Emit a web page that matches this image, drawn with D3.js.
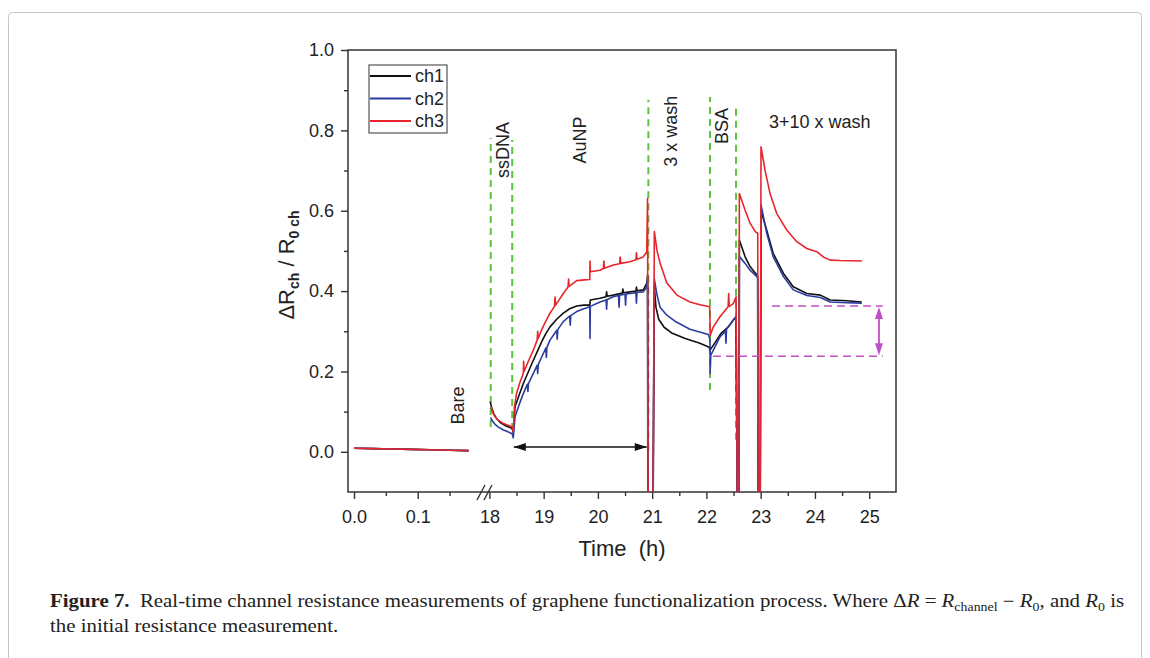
<!DOCTYPE html>
<html>
<head>
<meta charset="utf-8" />
<title>graphene functionalization</title>
<script src="https://cdn.jsdelivr.net/npm/d3@7"></script>
<style>
  body { margin: 0; background: #fff; }
  svg text { font-family: "Liberation Sans", Arial, sans-serif; fill: #222; }
  .cap text, text.cap { font-family: "Liberation Serif", "DejaVu Serif", serif; white-space: pre; }
</style>
</head>
<body>
<svg id="chart" width="1150" height="658"></svg>
<script>
// axis ticks
var leftTicks = [0, 0.1], leftMinor = [0.05, 0.15];
var rightTicks = [18, 19, 20, 21, 22, 23, 24, 25];
var rightMinor = [18.5, 19.5, 20.5, 21.5, 22.5, 23.5, 24.5];
var yTicks = [0, 0.2, 0.4, 0.6, 0.8, 1.0], yMinor = [0.1, 0.3, 0.5, 0.7, 0.9];

var channels = ['ch1', 'ch2', 'ch3'];
var colors = ['#111111', '#2b3c9e', '#e8252d'];

// [time (h), dR/R0]; null = axis break
var ch1 = [[0,0.009],[0.03,0.008],[0.06,0.007],[0.09,0.006],[0.12,0.005],[0.15,0.004],[0.18,0.003], null,
  [18.015,0.125],[18.04,0.11],[18.08,0.095],[18.13,0.083],[18.2,0.073],[18.3,0.065],[18.42,0.058],[18.44,0.048],
  [18.472,0.112],[18.55,0.142],[18.625,0.17],[18.72,0.2],[18.81,0.228],[18.89,0.252],[18.964,0.274],[19.04,0.294],
  [19.117,0.311],[19.24,0.33],[19.362,0.345],[19.48,0.356],[19.609,0.363],[19.74,0.365],[19.85,0.365],[19.86,0.378],
  [20.039,0.382],[20.15,0.386],[20.16,0.398],[20.17,0.387],[20.284,0.39],[20.45,0.395],[20.46,0.405],[20.47,0.396],
  [20.592,0.398],[20.7,0.4],[20.71,0.41],[20.72,0.401],[20.837,0.403],[20.9,0.419],[20.915,0.44],[20.925,-0.2],[21.015,-0.2],
  [21.04,0.41],[21.07,0.36],[21.12,0.33],[21.22,0.31],[21.37,0.295],[21.61,0.282],[21.88,0.27],[22.05,0.26],[22.066,0.253],
  [22.15,0.27],[22.27,0.295],[22.404,0.311],[22.496,0.328],[22.546,0.336],[22.572,-0.2],[22.6,-0.2],[22.607,0.527],
  [22.712,0.486],[22.804,0.461],[22.93,0.44],[22.945,0.436],[22.95,-0.2],[22.99,-0.2],[23.006,0.6],
  [23.11,0.552],[23.23,0.494],[23.42,0.444],[23.6,0.411],[23.85,0.394],[24.1,0.39],[24.28,0.378],[24.59,0.376],[24.863,0.373]];

var ch2 = [[0,0.009],[0.03,0.008],[0.06,0.007],[0.09,0.006],[0.12,0.005],[0.15,0.004],[0.18,0.003], null,
  [18.02,0.085],[18.06,0.076],[18.1,0.069],[18.16,0.062],[18.25,0.055],[18.34,0.05],[18.42,0.045],[18.44,0.035],
  [18.472,0.087],[18.55,0.118],[18.625,0.145],[18.7,0.168],[18.71,0.15],[18.72,0.17],[18.81,0.195],[18.88,0.215],
  [18.89,0.195],[18.9,0.217],[18.964,0.236],[19.04,0.258],[19.05,0.235],[19.06,0.26],[19.117,0.278],[19.24,0.302],
  [19.25,0.28],[19.26,0.304],[19.362,0.324],[19.48,0.338],[19.49,0.315],[19.5,0.339],[19.609,0.349],[19.74,0.356],
  [19.85,0.361],[19.855,0.282],[19.86,0.362],[20.039,0.373],[20.15,0.378],[20.16,0.355],[20.17,0.379],[20.284,0.386],
  [20.38,0.389],[20.39,0.36],[20.4,0.39],[20.5,0.392],[20.51,0.365],[20.52,0.393],[20.592,0.394],[20.7,0.396],
  [20.71,0.37],[20.72,0.397],[20.837,0.398],[20.9,0.41],[20.915,0.43],[20.92,-0.2],[21.01,-0.2],
  [21.04,0.43],[21.09,0.39],[21.145,0.36],[21.27,0.34],[21.42,0.325],[21.696,0.305],[22.035,0.292],[22.066,0.28],
  [22.068,0.195],[22.08,0.24],[22.127,0.253],[22.25,0.286],[22.35,0.3],[22.36,0.27],[22.37,0.305],[22.496,0.328],
  [22.546,0.336],[22.57,-0.2],[22.6,-0.2],[22.607,0.486],
  [22.712,0.469],[22.804,0.452],[22.93,0.436],[22.945,0.432],[22.95,-0.2],[22.99,-0.2],[23.006,0.615],
  [23.11,0.545],[23.23,0.486],[23.42,0.436],[23.6,0.403],[23.85,0.389],[24.1,0.384],[24.28,0.373],[24.59,0.371],[24.863,0.37]];

var ch3 = [[0,0.009],[0.03,0.008],[0.06,0.007],[0.09,0.006],[0.12,0.005],[0.15,0.004],[0.18,0.003], null,
  [18.03,0.112],[18.06,0.098],[18.1,0.088],[18.16,0.079],[18.24,0.072],[18.33,0.067],[18.42,0.062],[18.44,0.05],
  [18.46,0.11],[18.5,0.145],[18.56,0.172],[18.625,0.195],[18.63,0.225],[18.64,0.2],[18.72,0.226],[18.81,0.253],
  [18.88,0.278],[18.89,0.3],[18.9,0.282],[18.96,0.303],[19.04,0.325],[19.117,0.345],[19.2,0.362],[19.21,0.385],
  [19.22,0.365],[19.362,0.394],[19.45,0.41],[19.46,0.43],[19.47,0.412],[19.609,0.426],[19.75,0.428],[19.85,0.429],
  [19.855,0.475],[19.86,0.448],[19.95,0.45],[20.039,0.452],[20.1,0.456],[20.11,0.475],[20.12,0.457],[20.284,0.465],
  [20.4,0.468],[20.41,0.485],[20.42,0.469],[20.592,0.473],[20.7,0.478],[20.71,0.495],[20.72,0.479],[20.837,0.485],
  [20.9,0.498],[20.915,0.631],[20.925,-0.2],[21.015,-0.2],
  [21.04,0.548],[21.09,0.5],[21.145,0.47],[21.27,0.42],[21.456,0.39],[21.696,0.373],[21.88,0.366],[22.06,0.361],
  [22.07,0.29],[22.127,0.311],[22.25,0.336],[22.4,0.361],[22.41,0.394],[22.42,0.362],[22.496,0.369],[22.546,0.386],
  [22.575,-0.2],[22.6,-0.2],[22.607,0.643],
  [22.712,0.602],[22.804,0.569],[22.9,0.548],[22.946,0.544],[22.95,-0.2],[22.99,-0.2],[23.006,0.759],
  [23.08,0.701],[23.172,0.643],[23.296,0.593],[23.48,0.552],[23.665,0.523],[23.85,0.506],[24.033,0.498],
  [24.155,0.485],[24.28,0.477],[24.46,0.476],[24.863,0.475]];

// step markers: [time, from, to]
var steps = [[18.024,0.062,0.781],[18.42,0.054,0.776],[20.93,0.004,0.876],[22.066,0.154,0.883],[22.545,0.03,0.858]];
var stepNames = ['Bare', 'ssDNA', 'AuNP', '3 x wash', 'BSA'];
var stepAt = [[0.162,0.115],[18.25,0.751],[19.67,0.776],[21.35,0.798],[22.29,0.811]];
var washLabel = '3+10 x wash', washAt = [24.09, 0.805];
var spanArrow = [18.45, 20.9, 0.012];
var baseLine = [22.12, 25.25, 0.238], endLine = [23.21, 25.25, 0.363], deltaAt = 25.18;

var svg = d3.select('#chart');
var L = 348, R = 896, T = 50, B = 492;

var xLeft = d3.scaleLinear().domain([0, 0.1]).range([354, 417.7]);
var xRight = d3.scaleLinear().domain([18, 25]).range([489.4, 869.2]);
var y = d3.scaleLinear().domain([-0.1, 1.0]).range([B, T]);
function xt(t) { return t < 1 ? xLeft(t) : xRight(t); }

// page border
svg.append('rect').attr('x', 8.5).attr('y', 12.5).attr('width', 1133).attr('height', 700)
  .attr('rx', 4).attr('fill', 'none').attr('stroke', '#c4c4c4');

svg.append('clipPath').attr('id', 'plot').append('rect')
  .attr('x', L).attr('y', T).attr('width', R - L).attr('height', B - T);

function axisStyle(g) {
  g.select('.domain').remove();
  g.selectAll('line').attr('stroke', '#333').attr('stroke-width', 1.4);
  g.selectAll('text').style('font-size', '18px').attr('fill', '#222');
}

// x axes
svg.append('g').attr('transform', `translate(0,${B})`)
  .call(d3.axisBottom(xLeft).tickValues(leftTicks).tickFormat(d3.format('.1f')).tickSize(7).tickPadding(11)).call(axisStyle);
svg.append('g').attr('transform', `translate(0,${B})`)
  .call(d3.axisBottom(xLeft).tickValues(leftMinor).tickFormat('').tickSize(4)).call(axisStyle);
svg.append('g').attr('transform', `translate(0,${B})`)
  .call(d3.axisBottom(xRight).tickValues(rightTicks).tickFormat(d3.format('d')).tickSize(7).tickPadding(11)).call(axisStyle);
svg.append('g').attr('transform', `translate(0,${B})`)
  .call(d3.axisBottom(xRight).tickValues(rightMinor).tickFormat('').tickSize(4)).call(axisStyle);

// y axis
svg.append('g').attr('transform', `translate(${L},0)`)
  .call(d3.axisLeft(y).tickValues(yTicks).tickFormat(d3.format('.1f')).tickSize(7).tickPadding(7)).call(axisStyle);
svg.append('g').attr('transform', `translate(${L},0)`)
  .call(d3.axisLeft(y).tickValues(yMinor).tickFormat('').tickSize(4)).call(axisStyle);

// frame
svg.append('rect').attr('x', L).attr('y', T).attr('width', R - L).attr('height', B - T)
  .attr('fill', 'none').attr('stroke', '#333').attr('stroke-width', 1.5);

// axis break
[[477, 484], [484, 491]].forEach(function (s) {
  svg.append('line').attr('x1', s[0]).attr('y1', B + 8).attr('x2', s[1] + 1).attr('y2', B - 7)
    .attr('stroke', '#333').attr('stroke-width', 1.4);
});

// titles
svg.append('text').attr('x', 622).attr('y', 556).attr('text-anchor', 'middle')
  .style('font-size', '22px').style('white-space', 'pre').text('Time  (h)');

var yt = svg.append('text').attr('transform', 'translate(294,265) rotate(-90)')
  .attr('text-anchor', 'middle').style('font-size', '22px');
yt.append('tspan').text('\u0394R');
yt.append('tspan').attr('dy', 5).style('font-size', '14px').style('font-weight', 'bold').text('ch');
yt.append('tspan').attr('dy', -5).text(' / R');
yt.append('tspan').attr('dy', 5).style('font-size', '14px').style('font-weight', 'bold').text('0 ch');

var plot = svg.append('g').attr('clip-path', 'url(#plot)');

// step markers
plot.selectAll('line.step').data(steps).enter().append('line').attr('class', 'step')
  .attr('x1', d => xt(d[0])).attr('x2', d => xt(d[0]))
  .attr('y1', d => y(d[1])).attr('y2', d => y(d[2]))
  .attr('stroke', '#5cc43c').attr('stroke-width', 2).attr('stroke-dasharray', '7,5');

var line = d3.line().defined(d => d !== null).x(d => xt(d[0])).y(d => y(d[1]));
[ch1, ch2, ch3].forEach(function (data, i) {
  plot.append('path').datum(data).attr('d', line)
    .attr('fill', 'none').attr('stroke', colors[i]).attr('stroke-width', 1.6).attr('stroke-linejoin', 'round');
});

// span arrow
function arrowHead(x, yy, dir) {
  var p = dir === 'l' ? [[x, yy], [x + 12, yy - 4], [x + 12, yy + 4]]
    : dir === 'r' ? [[x, yy], [x - 12, yy - 4], [x - 12, yy + 4]]
    : dir === 'u' ? [[x, yy], [x - 4, yy + 12], [x + 4, yy + 12]]
    : [[x, yy], [x - 4, yy - 12], [x + 4, yy - 12]];
  return 'M' + p.join('L') + 'Z';
}
var ay = y(spanArrow[2]);
svg.append('line').attr('x1', xt(spanArrow[0])).attr('x2', xt(spanArrow[1])).attr('y1', ay).attr('y2', ay)
  .attr('stroke', '#111').attr('stroke-width', 1.5);
svg.append('path').attr('d', arrowHead(xt(spanArrow[0]), ay, 'l')).attr('fill', '#111');
svg.append('path').attr('d', arrowHead(xt(spanArrow[1]), ay, 'r')).attr('fill', '#111');

// delta lines
var mag = '#c04ec4';
[baseLine, endLine].forEach(function (d) {
  svg.append('line').attr('x1', xt(d[0])).attr('x2', xt(d[1])).attr('y1', y(d[2])).attr('y2', y(d[2]))
    .attr('stroke', mag).attr('stroke-width', 1.6).attr('stroke-dasharray', '8,5');
});
var dx = xt(deltaAt);
svg.append('line').attr('x1', dx).attr('x2', dx).attr('y1', y(endLine[2]) + 4).attr('y2', y(baseLine[2]) - 4)
  .attr('stroke', mag).attr('stroke-width', 1.8);
svg.append('path').attr('d', arrowHead(dx, y(endLine[2]) + 1, 'u')).attr('fill', mag);
svg.append('path').attr('d', arrowHead(dx, y(baseLine[2]) - 1, 'd')).attr('fill', mag);

// step labels
stepNames.forEach(function (name, i) {
  var px = xt(stepAt[i][0]), py = y(stepAt[i][1]);
  svg.append('text').attr('transform', `translate(${px},${py}) rotate(-90)`)
    .attr('text-anchor', 'middle').attr('dy', '0.35em').style('font-size', '18px').text(name);
});
svg.append('text').attr('x', xt(washAt[0])).attr('y', y(washAt[1])).attr('text-anchor', 'middle')
  .style('font-size', '18px').text(washLabel);

// legend
var lg = svg.append('g').attr('transform', 'translate(369,65)');
lg.append('rect').attr('width', 78).attr('height', 68).attr('fill', '#fff').attr('stroke', '#555').attr('stroke-width', 1.2);
channels.forEach(function (c, i) {
  var ly = 11 + i * 22.5;
  lg.append('line').attr('x1', 1).attr('x2', 42).attr('y1', ly).attr('y2', ly)
    .attr('stroke', colors[i]).attr('stroke-width', 1.8);
  lg.append('text').attr('x', 46).attr('y', ly).attr('dy', '0.36em').style('font-size', '18px').text(c);
});

// caption
var c1 = svg.append('text').attr('class', 'cap').style('font-size', '18px');
c1.append('tspan').style('font-weight', 'bold').text('Figure 7.');
c1.append('tspan').text('  Real-time channel resistance measurements of graphene functionalization process. Where \u0394');
c1.append('tspan').style('font-style', 'italic').text('R');
c1.append('tspan').text(' = ');
c1.append('tspan').style('font-style', 'italic').text('R');
c1.append('tspan').attr('dy', 4).style('font-size', '12px').text('channel');
c1.append('tspan').attr('dy', -4).text(' \u2212 ');
c1.append('tspan').style('font-style', 'italic').text('R');
c1.append('tspan').attr('dy', 4).style('font-size', '12px').text('0');
c1.append('tspan').attr('dy', -4).text(', and ');
c1.append('tspan').style('font-style', 'italic').text('R');
c1.append('tspan').attr('dy', 4).style('font-size', '12px').text('0');
c1.append('tspan').attr('dy', -4).text(' is');
var k = 1075 / c1.node().getBBox().width;
c1.attr('transform', `translate(50,607) scale(${k},1)`);
svg.append('text').attr('class', 'cap').style('font-size', '18px')
  .attr('transform', `translate(50,632) scale(${k},1)`).text('the initial resistance measurement.');
</script>
</body>
</html>
